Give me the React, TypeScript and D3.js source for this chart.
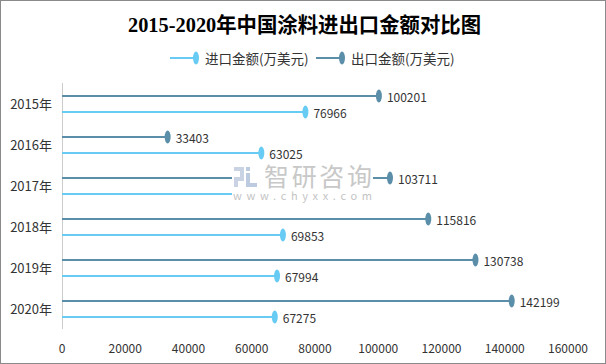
import React from "react";
import * as d3 from "d3";

const categories = ["2015年", "2016年", "2017年", "2018年", "2019年", "2020年"];
const exportValues = [100201, 33403, 103711, 115816, 130738, 142199];
const importValues = [76966, 63025, 68000, 69853, 67994, 67275];
const xTicks = [0, 20000, 40000, 60000, 80000, 100000, 120000, 140000, 160000];
const seriesNames = ["出口金额(万美元)", "进口金额(万美元)"];

const W = 606;
const H = 364;
const EXPORT_COLOR = "#5b8ea8";
const IMPORT_COLOR = "#68cbf3";
const FONT = "'Noto Sans CJK SC', 'Noto Sans', sans-serif";

export default function App() {
  const x = d3.scaleLinear().domain([0, 160000]).range([62, 568]);
  const y = d3.scaleBand<string>().domain(categories).range([83, 329]).padding(0);
  const sub = d3.scaleBand<string>().domain(seriesNames).range([5, 37]).padding(0);
  const subY = (name: string, cat: string) => (y(cat) as number) + (sub(name) as number) + sub.bandwidth() / 2;

  const series = [
    { name: seriesNames[0], values: exportValues, color: EXPORT_COLOR },
    { name: seriesNames[1], values: importValues, color: IMPORT_COLOR },
  ];

  const legendItems = [
    { name: seriesNames[1], color: IMPORT_COLOR, x0: 170 },
    { name: seriesNames[0], color: EXPORT_COLOR, x0: 316 },
  ];

  return (
    <svg
      width={W}
      height={H}
      style={{ position: "absolute", left: 0, top: 0, background: "#fff" }}
      fontFamily={FONT}
    >
      <rect x={0.5} y={0.5} width={W - 1} height={H - 1} fill="#fff" stroke="#8a8a8a" strokeWidth={1} />
      <text
        x={128}
        y={32}
        fontSize={21}
        fontWeight="bold"
        fontFamily="'Liberation Serif', 'Noto Sans CJK SC', serif"
        fill="#000"
        textLength={353}
        lengthAdjust="spacingAndGlyphs"
      >
        2015-2020年中国涂料进出口金额对比图
      </text>

      {legendItems.map((l) => (
        <g key={l.name}>
          <line x1={l.x0} x2={l.x0 + 24} y1={58} y2={58} stroke={l.color} strokeWidth={2} />
          <ellipse cx={l.x0 + 26} cy={58} rx={3} ry={6.5} fill={l.color} />
          <text x={l.x0 + 35} y={58} dominantBaseline="central" fontSize={13.5} fill="#333">
            {l.name}
          </text>
        </g>
      ))}

      <line x1={62.5} x2={62.5} y1={83} y2={329} stroke="#cccccc" strokeWidth={1} />

      {categories.map((c) => (
        <text
          key={c}
          x={52}
          y={(y(c) as number) + y.bandwidth() / 2}
          textAnchor="end"
          dominantBaseline="central"
          fontSize={13}
          fill="#333"
        >
          {c}
        </text>
      ))}

      {series.map((s) =>
        categories.map((c, i) => {
          const yy = subY(s.name, c);
          const xv = x(s.values[i]);
          return (
            <g key={s.name + c}>
              <line x1={x(0)} x2={xv} y1={yy} y2={yy} stroke={s.color} strokeWidth={2} />
              <ellipse cx={xv} cy={yy} rx={3} ry={6.5} fill={s.color} />
              <text x={xv + 8} y={yy} dominantBaseline="central" fontSize={12} fill="#333">
                {s.values[i]}
              </text>
            </g>
          );
        })
      )}

      {xTicks.map((t) => (
        <text key={t} x={x(t)} y={347} textAnchor="middle" dominantBaseline="central" fontSize={12} fill="#333">
          {t}
        </text>
      ))}

      {/* watermark */}
      <g>
        <rect x={232} y={163} width={141} height={39} fill="#fff" />
        <rect x={234} y={167} width={10} height={4} fill="#c9d3e3" />
        <rect x={240} y={171} width={4} height={6} fill="#c9d3e3" />
        <rect x={234} y={177} width={10} height={4} fill="#c9d3e3" />
        <rect x={234} y={181} width={4} height={6} fill="#c9d3e3" />
        <rect x={246} y={167} width={4} height={4} fill="#bccbe0" />
        <rect x={246} y={173} width={4} height={14} fill="#bccbe0" />
        <rect x={250} y={183} width={7} height={4} fill="#bccbe0" />
        <text x={264} y={186} fontSize={25} fill="#c8c8c8" textLength={108} lengthAdjust="spacing">
          智研咨询
        </text>
        <text x={233} y={200} fontSize={11} fill="#c4c4c4" textLength={139} lengthAdjust="spacing">
          www.chyxx.com
        </text>
      </g>
    </svg>
  );
}
